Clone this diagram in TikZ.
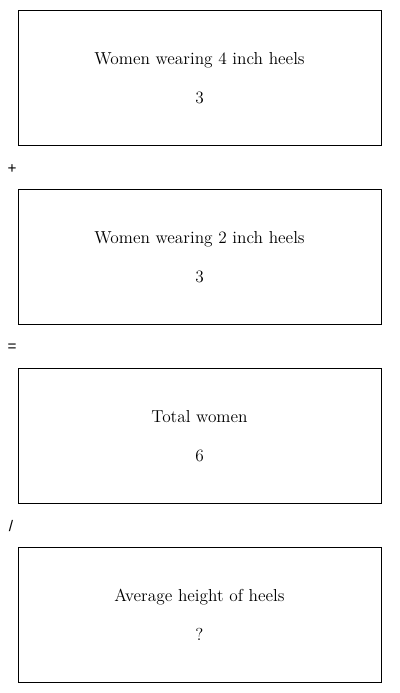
\documentclass[tikz,border=0pt]{standalone}
\usepackage{fontspec}
\newfontfamily\opfont{Liberation Sans}
\usetikzlibrary{positioning}

\begin{document}
\begin{tikzpicture}[
  x=0.75pt, y=-0.75pt,
  node distance=33pt,
  stepbox/.style={draw, line width=0.75pt, outer sep=0pt, minimum width=272.25pt, minimum height=101.25pt,
    align=center, font=\fontsize{13}{15.5}\selectfont, inner sep=0pt},
  op/.style={font=\opfont\fontsize{11.5}{13}\selectfont, inner sep=0pt}
]
  \useasboundingbox (0,0) rectangle (400,693);

  \node[stepbox] (heelsfour) at (199.5,78) {Women wearing 4 inch heels\\[13.75pt]3};
  \node[stepbox, below=of heelsfour] (heelstwo) {Women wearing 2 inch heels\\[13.75pt]3};
  \node[stepbox, below=of heelstwo] (total) {Total women\\[13.75pt]6};
  \node[stepbox, below=of total] (average) {Average height of heels\\[13.75pt]?};

  \node[op] (plus) at (12,169) {+};
  \node[op] (equals) at (12,348) {=};
  \node[op] (divide) at (11,526) {/};
\end{tikzpicture}
\end{document}
